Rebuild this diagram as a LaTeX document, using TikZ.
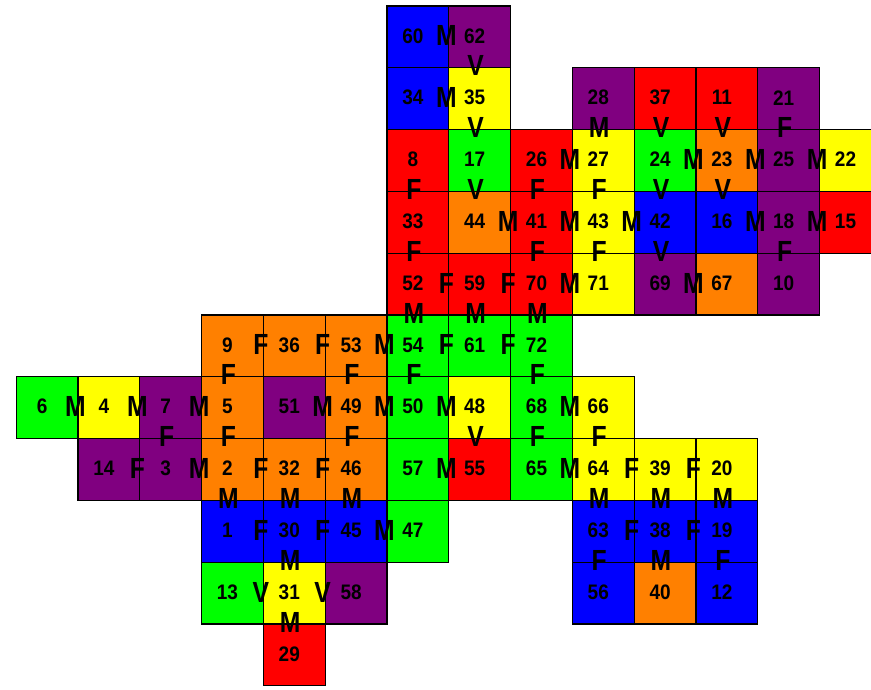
\documentclass[tikz,border=0pt]{standalone}
\usepackage{fontspec}
\setmainfont{Liberation Sans}
\definecolor{cblue}{RGB}{0,0,255}
\definecolor{cpurple}{RGB}{128,0,128}
\definecolor{cyellow}{RGB}{255,255,0}
\definecolor{cred}{RGB}{255,0,0}
\definecolor{cgreen}{RGB}{0,255,0}
\definecolor{corange}{RGB}{255,128,0}
\begin{document}
\begin{tikzpicture}[x=1pt,y=1pt,
  cellbox/.style={draw=black, line width=1.3pt, minimum size=61.8pt, inner sep=0pt, outer sep=0pt},
  numtxt/.style={font=\bfseries\fontsize{20}{20}\selectfont, inner sep=0pt},
  lettxt/.style={font=\bfseries\fontsize{26}{26}\selectfont, inner sep=0pt}]
\useasboundingbox (0,0) rectangle (871,-690);
\foreach \c/\r/\col/\n in {
  6/0/cblue/60, 7/0/cpurple/62,
  6/1/cblue/34, 7/1/cyellow/35, 9/1/cpurple/28, 10/1/cred/37, 11/1/cred/11, 12/1/cpurple/21,
  6/2/cred/8, 7/2/cgreen/17, 8/2/cred/26, 9/2/cyellow/27, 10/2/cgreen/24, 11/2/corange/23, 12/2/cpurple/25, 13/2/cyellow/22,
  6/3/cred/33, 7/3/corange/44, 8/3/cred/41, 9/3/cyellow/43, 10/3/cblue/42, 11/3/cblue/16, 12/3/cpurple/18, 13/3/cred/15,
  6/4/cred/52, 7/4/cred/59, 8/4/cred/70, 9/4/cyellow/71, 10/4/cpurple/69, 11/4/corange/67, 12/4/cpurple/10,
  3/5/corange/9, 4/5/corange/36, 5/5/corange/53, 6/5/cgreen/54, 7/5/cgreen/61, 8/5/cgreen/72,
  0/6/cgreen/6, 1/6/cyellow/4, 2/6/cpurple/7, 3/6/corange/5, 4/6/cpurple/51, 5/6/corange/49, 6/6/cgreen/50, 7/6/cyellow/48, 8/6/cgreen/68, 9/6/cyellow/66,
  1/7/cpurple/14, 2/7/cpurple/3, 3/7/corange/2, 4/7/corange/32, 5/7/corange/46, 6/7/cgreen/57, 7/7/cred/55, 8/7/cgreen/65, 9/7/cyellow/64, 10/7/cyellow/39, 11/7/cyellow/20,
  3/8/cblue/1, 4/8/cblue/30, 5/8/cblue/45, 6/8/cgreen/47, 9/8/cblue/63, 10/8/cblue/38, 11/8/cblue/19,
  3/9/cgreen/13, 4/9/cyellow/31, 5/9/cpurple/58, 9/9/cblue/56, 10/9/corange/40, 11/9/cblue/12,
  4/10/cred/29} {
  \node[cellbox, fill=\col] (cell\n) at ({47.1+61.8*\c}, {-(36.9+61.8*\r)}) {};
  \node[numtxt] (num\n) at ({42.1+61.8*\c}, {-(35.9+61.8*\r)}) {\scalebox{0.95}[1.05]{\n}};
}
% letters on the right edge of a cell
\foreach \c/\r/\n/\L in {
  6/0/60/M, 6/1/34/M, 8/2/26/M, 10/2/24/M, 11/2/23/M, 12/2/25/M,
  7/3/44/M, 8/3/41/M, 9/3/43/M, 11/3/16/M, 12/3/18/M,
  6/4/52/F, 7/4/59/F, 8/4/70/M, 10/4/69/M,
  3/5/9/F, 4/5/36/F, 5/5/53/M, 6/5/54/F, 7/5/61/F,
  0/6/6/M, 1/6/4/M, 2/6/7/M, 4/6/51/M, 5/6/49/M, 6/6/50/M, 8/6/68/M,
  1/7/14/F, 2/7/3/M, 3/7/2/F, 4/7/32/F, 6/7/57/M, 8/7/65/M, 9/7/64/F, 10/7/39/F,
  3/8/1/F, 4/8/30/F, 5/8/45/M, 9/8/63/F, 10/8/38/F,
  3/9/13/V, 4/9/31/V} {
  \node[lettxt] (hl\n) at ({75.5+61.8*\c}, {-(35.9+61.8*\r)}) {\scalebox{0.95}[1.12]{\L}};
}
% letters on the bottom edge of a cell
\foreach \c/\r/\n/\L in {
  7/0/62/V, 7/1/35/V, 9/1/28/M, 10/1/37/V, 11/1/11/V, 12/1/21/F,
  6/2/8/F, 7/2/17/V, 8/2/26/F, 9/2/27/F, 10/2/24/V, 11/2/23/V,
  6/3/33/F, 8/3/41/F, 9/3/43/F, 10/3/42/V, 12/3/18/F,
  6/4/52/M, 7/4/59/M, 8/4/70/M,
  3/5/9/F, 5/5/53/F, 6/5/54/F, 8/5/72/F,
  2/6/7/F, 3/6/5/F, 5/6/49/F, 7/6/48/V, 8/6/68/F, 9/6/66/F,
  3/7/2/M, 4/7/32/M, 5/7/46/M, 9/7/64/M, 10/7/39/M, 11/7/20/M,
  4/8/30/M, 9/8/63/F, 10/8/38/M, 11/8/19/F,
  4/9/31/M} {
  \node[lettxt] (vl\n) at ({43+61.8*\c}, {-(65.8+61.8*\r)}) {\scalebox{0.95}[1.12]{\L}};
}
\end{tikzpicture}
\end{document}
